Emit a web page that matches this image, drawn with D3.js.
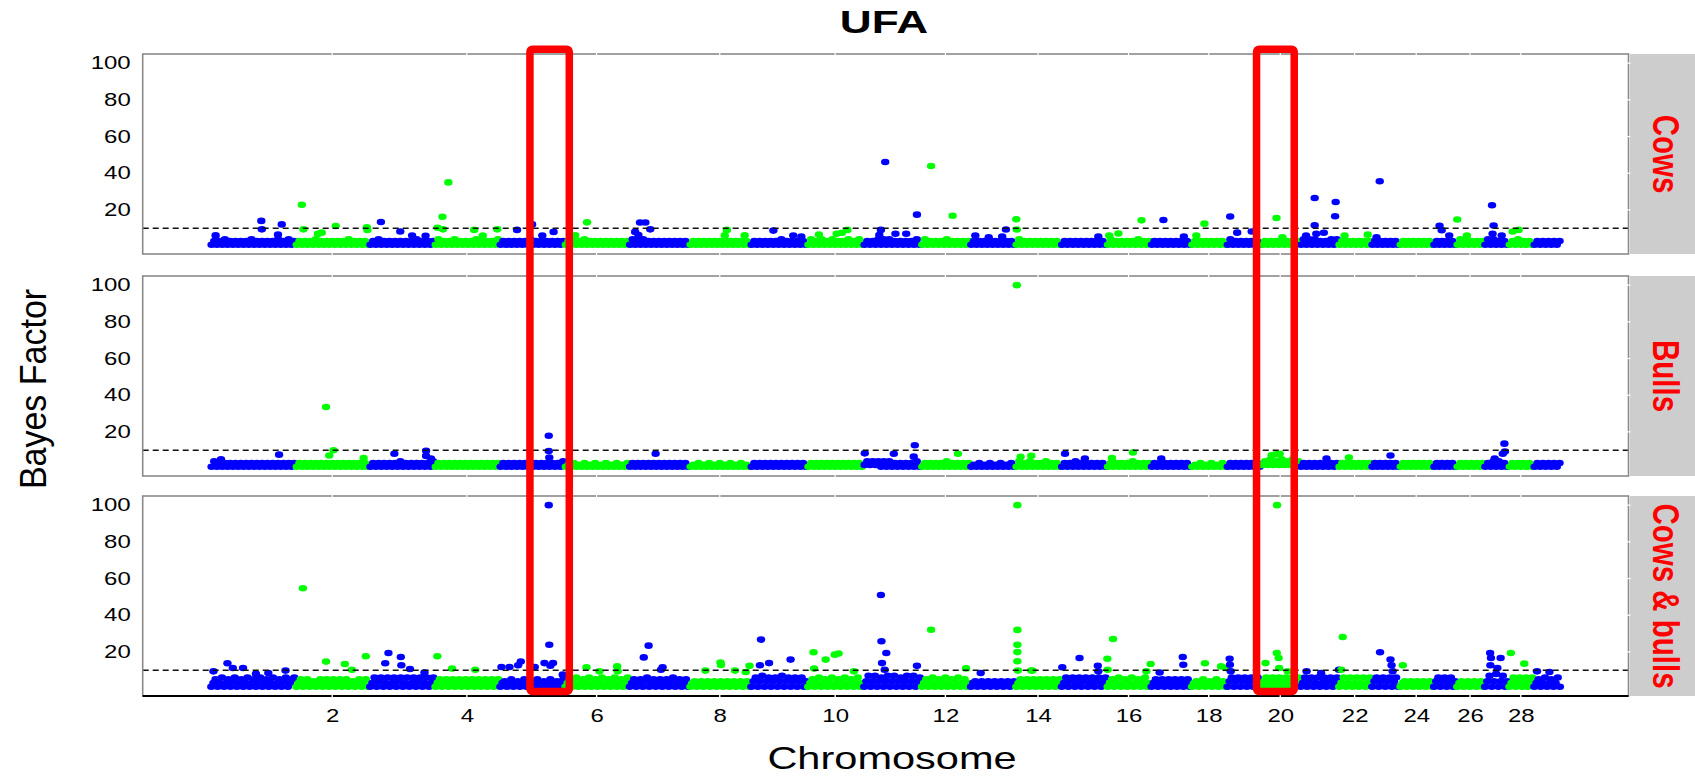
<!DOCTYPE html>
<html><head><meta charset="utf-8">
<script src="https://cdn.jsdelivr.net/npm/d3@7"></script>
<style>html,body{margin:0;padding:0;background:#fff;} svg{display:block;font-family:"Liberation Sans",Arial,sans-serif;}</style>
</head><body>
<svg id="chart" width="1695" height="777"></svg>
<script>
// ---------------- DATA ----------------
const chromosomes = d3.range(1, 30);
// chromosome lengths (Mb, UMD3.1)
const chromLengths = [158.3,137.1,121.4,120.7,121.2,119.5,112.6,113.4,105.7,104.3,107.3,91.2,84.2,84.6,85.3,81.7,75.2,66.0,64.1,72.0,71.6,61.4,52.5,62.7,42.9,51.7,45.4,46.3,51.5];
const xTickChroms = [2,4,6,8,10,12,14,16,18,20,22,24,26,28];
const yTicks = [20,40,60,80,100];
const panelNames = ["Cows","Bulls","Cows & bulls"];
const titleText = "UFA";
const xTitle = "Chromosome";
const yTitle = "Bayes Factor";
const threshold = 10;
// highlighted regions: [startChr, startMb, endChr, endMb]
const highlights = [[5,57,6,9],[19,56,20,62]];

// dense low-BF SNP band, one string per chromosome, each digit = Bayes factor of a SNP (evenly along chromosome)
const bandCows = [
"13131413131313141313131314131413","131313141313131313141313131","131413131313131314131313","141313141313131413131314",
"131313131314131313131313","131313141313131313131313","14131413131313131313131","13131313131313131313131",
"131313131314131313131","141314131413131413141","131314141413131313141","141313131413131313",
"13131313131313131","14131313131313131","13131313131313131","1413131313141313",
"131313131313131","1313131313131","1413131313131","13131313131313",
"14141413131414","131313131313","13131313131","1313131313131",
"131313131","1413131313","141413131","131413131","1313131313"];
const bandBulls = [
"14131313131313131313131313131313","131313131313131313131313131","131313131314131313131314","131313131313131313131313",
"131313131313131313131314","121312131213121312131213","13131313131313131313131","12131213121312131213121",
"131313131313131313131","131313131313131313131","242424141413131313141","131313131413131313",
"12131213121312131","14131413131413131","13131413131313131","1313131314131313",
"131313131313131","1213121312131","1313131313131","24252425242524",
"13131313131313","131313131313","13131313131","1313131313131",
"131313131","1313131313","131414131","131313131","1313131313"];
const bandBoth = [
"1351361351461351361351461351361351461356","1351351341351351451351351341351351","136146136136146136136146136136","135135145135135135145135135135",
"134135134135134135134135134135","135136135136135136135136135136","1351351461351351351461351351","1341341341341341341341341341",
"14614714614614714614614614","13513613513613513613513613","147147146147147146147147146","13513613513613513613513",
"134134134134134134134","135135135135135135135","136146136146136146136","13513613513613513613",
"1351351351351351351","1341351341351341","1461461461461461","146146146146146146",
"136146136136146136","136136136136136","1461461461461","1341341341341341",
"14614614614","1341341341341","14714814714","136146136146","1351361351361"];

// SNPs standing out of the band: [chromosome, position within chromosome (Mb), Bayes factor]
const peaksCows = [
[1,10,6.1],[1,95,14],[1,96,9.4],[1,133,12.1],[1,126,6.5],
[2,12,22.8],[2,15,9.4],[2,49,7.6],[2,42,6.9],[2,75,11.2],[2,133,10.5],[2,134,9.0],
[3,22,13.4],[3,58,8.2],[3,105,5.9],[3,80,6],
[4,26,35],[4,15,16.3],[4,6,10.3],[4,16,9.4],[4,74,9.1],[4,117,9.4],[4,90,6],
[5,33,9.1],[5,61,12.1],[5,101,8.0],[5,80,6],
[6,42,13.2],[6,20,6.1],
[7,21,13.1],[7,31,13.1],[7,40,9.4],[7,12,8],[7,18,6.3],
[8,70,9.1],[8,66,6.1],[8,103,6.1],
[9,43,8.7],[9,80,6],[9,95,5.5],
[10,75,9.1],[10,22,6.5],[10,55,7],[10,65,7.5],
[11,41,46.1],[11,33,9.1],[11,30,6.3],[11,100,17.4],[11,60,7],[11,80,7],
[12,19,43.9],[12,59,16.8],
[13,67,9.3],[13,10,6],[13,35,5],[13,60,5.5],
[14,2,14.9],[14,3,9.3],
[15,70,5.5],
[16,65,14.3],[16,22,7.1],[16,5,6],
[17,24,14.5],[17,62,5.5],
[18,25,12.5],[18,10,6],
[19,7,16.4],[19,20,7.6],[19,47,8.2],
[20,29,15.6],[20,40,5],
[21,28,26.5],[21,67,24.3],[21,66,16.5],[21,28,11.6],[21,31,7],[21,45,7.5],[21,12,6],
[22,12,6],[22,55,6.5],
[23,16,35.6],[23,10,5],
[25,12,11.3],[25,16,8.9],[25,30,6],
[26,2,14.8],[26,20,6],
[27,15,22.5],[27,18,11.5],[27,16,7],[27,33,6],
[28,19,9.1],[28,8,8.2]];
const peaksBulls = [
[1,128,7.6],[1,20,5],
[2,57,33.6],[2,71,10],[2,63,7.1],[2,127,5.7],
[3,47,8.1],[3,106,9.7],[3,106,6.9],[3,115,5.5],
[5,92,17.9],[5,92,9.6],[5,93,6],
[7,50,8.1],
[11,57,8.1],[11,96,12.7],[11,94,6.5],[11,3,8.3],
[12,69,8.1],
[14,3,100],[14,10,6.4],[14,30,7.0],
[15,8,8.1],[15,45,5.5],
[16,49,8.8],[16,10,5.7],
[17,20,5.5],
[20,35,8.1],[20,20,7.2],[20,28,7.8],
[21,50,5.5],
[22,20,6],
[23,36,7.1],
[27,38,13.6],[27,39,9.3],[27,35,8.1],[27,20,5.5]];
const peaksBoth = [
[1,32,13.8],[1,6,9.4],[1,61,11.2],[1,42,11.2],[1,140,9.8],[1,108,8.5],[1,85,8],
[2,14,54.7],[2,57,14.7],[2,92,13.4],[2,131,17.6],[2,105,10.3],
[3,36,19.4],[3,59,17.2],[3,30,13.8],[3,60,12.7],[3,76,10.7],[3,103,8.8],
[4,5.5,17.6],[4,33,10.9],[4,76,10.3],
[5,4,11.8],[5,19,11.8],[5,40,14.8],[5,35,12.7],[5,66,11.8],[5,92,100],[5,93,23.9],[5,84,13.9],[5,100,13.9],[5,95,12.5],[5,118,7.6],
[6,41,11.6],[6,98,12.1],[6,99,9.4],[6,65,9.4],
[7,37,23.4],[7,28,17],[7,63,11.6],[7,60,10.3],
[8,58,14.2],[8,59,12.9],[8,30,9.8],[8,85,9.8],[8,112,12.4],[8,105,9],
[9,20,26.7],[9,35,13.9],[9,18,12.7],[9,75,15.8],
[10,12,19.8],[10,34.5,15.8],[10,51.5,18.5],[10,58.6,19.1],[10,13,10.9],[10,87,9.4],
[11,33,51],[11,34,25.8],[11,43,19.4],[11,35,13.9],[11,40,10.3],[11,100,12.4],
[12,19,32.1],[12,84,11],
[13,20,8.5],
[14,4,100],[14,4,32],[14,4,23.9],[14,4,19.9],[14,4,14.9],[14,5,9.8],[14,30,9.8],[14,32,9.8],
[15,3,11.6],[15,35,16.7],[15,69,12.4],[15,70,9.4],
[16,12,27],[16,1.5,16.3],[16,2,10.3],[16,74,9.4],[16,82,13.4],
[17,60,17.2],[17,17,8.8],[17,61,13],
[18,26,13.8],[18,56,12.1],[18,65,11.2],
[19,6,16.3],[19,6.5,13],[19,8,9.4],
[20,30,100],[20,29.5,19.4],[20,33,16.7],[20,8.6,13.9],[20,34,11.2],[20,50,9.4],
[21,13,9.4],[21,73,10.3],[21,40,8.5],
[22,8.6,28.1],[22,6,10.3],
[23,16.6,19.8],[23,36,15.8],[23,38,12.7],[23,40,9.4],
[24,6.5,12.7],
[27,11.5,19.4],[27,13,16.7],[27,25,11.2],[27,31,16.7],[27,12,12.7],
[28,4.6,19.4],[28,29.5,13.6],
[29,7,9.4],[29,30,9]];

// ---------------- LAYOUT ----------------
const W = 1695, H = 777;
const left = 142.7, right = 1628.5;
const panelTops = [54, 276, 496];
const panelH = 200;
const stripX = 1630;
const colors = {odd: "#0000FF", even: "#00FF00"};
const FONT = '"Liberation Sans",Arial,sans-serif';

const svg = d3.select("#chart");
svg.append("rect").attr("width", W).attr("height", H).attr("fill", "#fff");

const offsets = [];
chromLengths.reduce((acc, l, i) => { offsets[i] = acc; return acc + l; }, 0);
const total = d3.sum(chromLengths);
const x = d3.scaleLinear().domain([-0.05 * total, 1.05 * total]).range([left, right]);
const pos = (c, p) => x(offsets[c - 1] + p);

const panels = [
  {name: panelNames[0], bands: bandCows, peaks: peaksCows},
  {name: panelNames[1], bands: bandBulls, peaks: peaksBulls},
  {name: panelNames[2], bands: bandBoth, peaks: peaksBoth}
];

const sx = 1.37; // horizontal stretch of the original figure
const tickFont = 17.5;

panels.forEach((p, k) => {
  const top = panelTops[k];
  const y = d3.scaleLinear().domain([-4.05, 105]).range([top + panelH, top]);
  const g = svg.append("g");

  // strip
  g.append("rect").attr("x", stripX).attr("y", top).attr("width", W - stripX).attr("height", panelH).attr("fill", "#cdcdcd");
  g.append("text")
    .attr("transform", `translate(1653,${top + panelH / 2}) scale(1.27,1) rotate(90)`)
    .attr("text-anchor", "middle")
    .attr("fill", "#FF0000").attr("font-weight", "bold").attr("font-size", 29.5)
    .text(p.name);

  // points
  const pts = [];
  p.bands.forEach((s, ci) => {
    const n = s.length;
    for (let i = 0; i < n; i++) pts.push({chr: ci + 1, pos: (i + 0.5) / n * chromLengths[ci], bf: +s[i], o: 0});
  });
  p.peaks.forEach(d => pts.push({chr: d[0], pos: d[1], bf: d[2], o: 1}));
  pts.sort((a, b) => a.chr - b.chr || a.o - b.o);

  g.append("g").selectAll("ellipse").data(pts).join("ellipse")
    .attr("cx", d => pos(d.chr, d.pos))
    .attr("cy", d => y(d.bf))
    .attr("rx", 4.2).attr("ry", 3.3)
    .attr("fill", d => d.chr % 2 ? colors.odd : colors.even);

  // threshold
  g.append("line").attr("x1", left).attr("x2", right).attr("y1", y(threshold)).attr("y2", y(threshold))
    .attr("stroke", "#111").attr("stroke-width", 1.3).attr("stroke-dasharray", "6,4");

  // border
  g.append("rect").attr("x", left).attr("y", top).attr("width", right - left).attr("height", panelH)
    .attr("fill", "none").attr("stroke", "#8a8a8a").attr("stroke-width", 1.6);

  // y axis
  const ya = d3.axisLeft(y).tickValues(yTicks).tickSize(0).tickPadding(0);
  const yg = g.append("g").attr("transform", `translate(${left},0)`).call(ya);
  yg.select(".domain").remove();
  yg.selectAll("text").attr("font-size", tickFont).attr("font-family", FONT)
    .attr("fill", "#000").attr("x", -12 / sx).attr("transform", `scale(${sx},1)`);

  // white tick marks on borders
  yTicks.forEach(t => {
    g.append("line").attr("x1", right - 1.5).attr("x2", right + 2).attr("y1", y(t)).attr("y2", y(t))
      .attr("stroke", "#fff").attr("stroke-width", 1.2);
  });
  xTickChroms.forEach(c => {
    const xx = pos(c, chromLengths[c - 1] / 2);
    [top, top + panelH].forEach(yy => {
      g.append("line").attr("x1", xx).attr("x2", xx).attr("y1", yy - 1.5).attr("y2", yy + 1.5)
        .attr("stroke", "#fff").attr("stroke-width", 1.2);
    });
  });
});

// bottom x axis of last panel
const bottom = panelTops[2] + panelH;
svg.append("line").attr("x1", left).attr("x2", right).attr("y1", bottom).attr("y2", bottom)
  .attr("stroke", "#000").attr("stroke-width", 2);
xTickChroms.forEach(c => {
  const xx = pos(c, chromLengths[c - 1] / 2);
  svg.append("line").attr("x1", xx).attr("x2", xx).attr("y1", bottom - 1.5).attr("y2", bottom + 1.5)
    .attr("stroke", "#fff").attr("stroke-width", 1.4);
});
const xa = d3.axisBottom(x)
  .tickValues(xTickChroms.map(c => offsets[c - 1] + chromLengths[c - 1] / 2))
  .tickFormat((d, i) => String(xTickChroms[i]))
  .tickSize(0).tickPadding(13.5);
const xg = svg.append("g").attr("transform", `translate(0,${bottom})`).call(xa);
xg.select(".domain").remove();
xg.selectAll("text").attr("font-size", tickFont).attr("font-family", FONT)
  .attr("fill", "#000").attr("transform", `scale(${sx},1)`);

// highlight boxes
highlights.forEach(h => {
  const x0 = pos(h[0], h[1]), x1 = pos(h[2], h[3]);
  const y0 = panelTops[0] - 4.8, y1 = bottom - 4.5;
  svg.append("rect").attr("x", x0).attr("y", y0).attr("width", x1 - x0).attr("height", y1 - y0)
    .attr("rx", 2.5).attr("fill", "none").attr("stroke", "#FF0000").attr("stroke-width", 7.5)
    .attr("stroke-linejoin", "round");
});

// titles
svg.append("text").attr("transform", `translate(884,33) scale(1.38,1)`)
  .attr("text-anchor", "middle").attr("font-weight", "bold").attr("font-size", 32).attr("fill", "#000")
  .text(titleText);
svg.append("text").attr("transform", `translate(892,769) scale(1.34,1)`)
  .attr("text-anchor", "middle").attr("font-size", 31).attr("fill", "#000").text(xTitle);
svg.append("text").attr("transform", `translate(46,389) scale(1.1,1) rotate(-90)`)
  .attr("text-anchor", "middle").attr("font-size", 34).attr("fill", "#000").text(yTitle);
</script>
</body></html>
